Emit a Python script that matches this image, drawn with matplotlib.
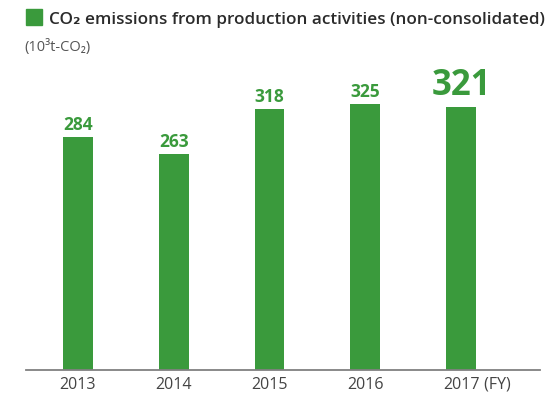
import matplotlib
matplotlib.use("Agg")
import matplotlib.pyplot as plt
from matplotlib.patches import Rectangle

years = ["2013", "2014", "2015", "2016", "2017"]
values = [284, 263, 318, 325, 321]
label_sizes = [12.5, 12.5, 12.5, 12.5, 25]
label_gaps = [5, 5, 5, 5, 8.4]

GREEN = "#3a9a3c"
FONT = ["Open Sans", "DejaVu Sans"]
plt.rcParams["font.family"] = FONT

W, H = 548, 401
fig = plt.figure(figsize=(W / 100, H / 100), dpi=100)
ax_left, ax_right, ax_bottom_px, ax_top_px = 26, 540, 370, 60
ax = fig.add_axes([ax_left / W, (H - ax_bottom_px) / H, (ax_right - ax_left) / W,
                   (ax_bottom_px - ax_top_px) / H])

x = list(range(len(years)))
ax.bar(x, values, width=0.313, color=GREEN, zorder=2)
ax.set_xlim(-0.543, 4.825)
ax.set_ylim(0, 310 / 0.82)

for xi, v, fs, g in zip(x, values, label_sizes, label_gaps):
    ax.annotate(str(v), (xi, v), xytext=(0, g), textcoords="offset points",
                ha="center", va="baseline", fontsize=fs, fontweight="bold", color=GREEN)

for s in ["top", "right", "left"]:
    ax.spines[s].set_visible(False)
ax.spines["bottom"].set_color("#808080")
ax.spines["bottom"].set_linewidth(1.3)
ax.set_yticks([])
ax.set_xticks(x)
ax.set_xticklabels(years, fontsize=11.5, color="#444444")
ax.tick_params(axis="x", length=0, pad=5)
# fiscal-year suffix next to the last tick label
ax.annotate(" (FY)", (x[-1], 0), xytext=(13.5, -5), textcoords="offset points",
            ha="left", va="top", fontsize=11.5, color="#444444", annotation_clip=False)

# title with legend square
fig.patches.append(Rectangle((26 / W, 1 - 25 / H), 16 / W, 16 / H, transform=fig.transFigure,
                             color=GREEN, figure=fig))
fig.text(49 / W, 1 - 24 / H, "CO₂ emissions from production activities (non-consolidated)",
         fontsize=12.3, color="#2b2b2b", va="baseline", ha="left", fontweight="semibold")
fig.text(24 / W, 1 - 51 / H, "(10³t-CO₂)", fontsize=10.5, color="#555555", va="baseline", ha="left")

fig.savefig("out.png", dpi=100)
